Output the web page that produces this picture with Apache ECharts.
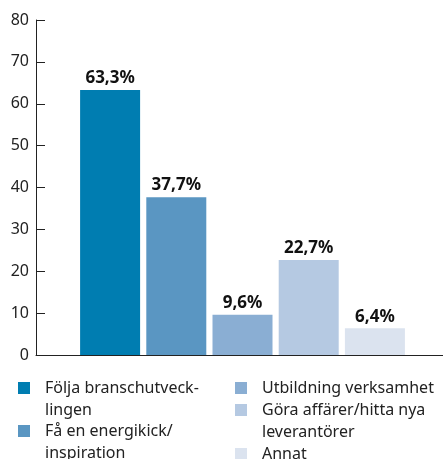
<!DOCTYPE html>
<html>
<head>
<meta charset="utf-8">
<script src="https://cdn.jsdelivr.net/npm/echarts@6/dist/echarts.min.js"></script>
<style>
  html, body { margin: 0; padding: 0; background: #fff; }
  #main { width: 443px; height: 459px; }
</style>
</head>
<body>
<div id="main"></div>
<script>
// data
var categories = ['Följa branschutvecklingen', 'Få en energikick/inspiration', 'Utbildning verksamhet', 'Göra affärer/hitta nya leverantörer', 'Annat'];
var values = [63.3, 37.7, 9.6, 22.7, 6.4];
var legendLines = [['Följa branschutveck-', 'lingen'], ['Få en energikick/', 'inspiration'], ['Utbildning verksamhet'], ['Göra affärer/hitta nya', 'leverantörer'], ['Annat']];
var yTicks = [0, 10, 20, 30, 40, 50, 60, 70, 80];

var colors = ['#007db1', '#5a96c2', '#8aaed3', '#b5c9e2', '#dbe3ef'];
var font = 'Noto Sans';

var myChart = echarts.init(document.getElementById('main'));

// legend placement (icon top / left)
var legTop = [382, 425, 382, 404, 448];
var legLeft = [18, 18, 235, 235, 235];

var series = [];
var legends = [];
categories.forEach(function (name, i) {
    series.push({
        name: name,
        type: 'bar',
        stack: 'all',
        barWidth: 60,
        xAxisIndex: 0,
        yAxisIndex: 0,
        data: values.map(function (v, j) { return j === i ? v : '-'; }),
        itemStyle: { color: colors[i] },
        label: {
            show: true,
            position: 'top',
            distance: 3,
            color: '#111',
            fontFamily: font,
            fontWeight: 'bold',
            fontSize: 17,
            formatter: function (p) { return p.value.toFixed(1).replace('.', ',') + '%'; }
        }
    });
    var lines = legendLines[i];
    // blank first line so that icon lines up with the first text line
    var two = lines.length > 1;
    legends.push({
        data: [name],
        left: legLeft[i],
        top: legTop[i] - (two ? 27 : 5),
        padding: 0,
        itemWidth: 12,
        itemHeight: 12,
        icon: 'rect',
        selectedMode: false,
        formatter: function () { return two ? '\n' + lines.join('\n') : lines[0]; },
        textStyle: {
            fontFamily: font,
            fontSize: 16,
            lineHeight: 22,
            color: '#222',
            padding: [0, 0, 0, 10]
        }
    });
});

var option = {
    animation: false,
    grid: [
        { left: 77, right: 35, top: 20, bottom: 104 },
        { left: 36, right: 0, top: 20, bottom: 104 }
    ],
    legend: legends,
    xAxis: [
        {
            type: 'category',
            gridIndex: 0,
            data: categories,
            axisLine: { show: false },
            axisTick: { show: false },
            axisLabel: { show: false }
        },
        {
            type: 'value',
            gridIndex: 1,
            min: 0,
            max: 1,
            axisLine: { show: true, lineStyle: { color: '#222', width: 1 } },
            axisTick: { show: false },
            axisLabel: { show: false },
            splitLine: { show: false }
        }
    ],
    yAxis: [
        {
            type: 'value',
            gridIndex: 0,
            min: yTicks[0],
            max: yTicks[yTicks.length - 1],
            interval: 10,
            offset: 41,
            axisLine: { show: true, lineStyle: { color: '#222', width: 1 } },
            axisTick: { show: true, inside: true, length: 9, lineStyle: { color: '#222' } },
            axisLabel: { color: '#222', fontFamily: font, fontSize: 16, margin: 7 },
            splitLine: { show: false }
        },
        {
            type: 'value',
            gridIndex: 1,
            show: false
        }
    ],
    series: series
};
myChart.setOption(option);
</script>
</body>
</html>
